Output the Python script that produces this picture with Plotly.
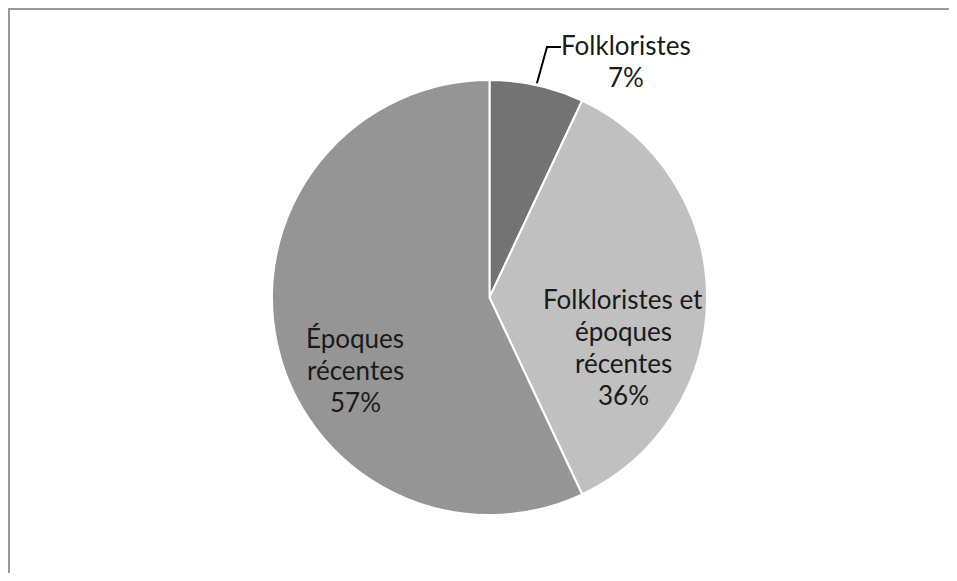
import math
import plotly.graph_objects as go

# Data
labels = ["Folkloristes", "Folkloristes et époques récentes", "Époques récentes"]
values = [7, 36, 57]
colors = ["#737373", "#c0c0c0", "#959595"]
label_lines = [
    ["Folkloristes", "7%"],
    ["Folkloristes et", "époques", "récentes", "36%"],
    ["Époques", "récentes", "57%"],
]

# the page puts the figure 8px in from the top-left corner
OFF = 8
W, H = 957 - 2 * OFF, 581 - 2 * OFF
cx, cy, r = 489.5, 297.5, 217.5


def px(x):
    return (x - OFF) / W


def py(y):
    return 1 - (y - OFF) / H


fig = go.Figure()

fig.add_trace(
    go.Pie(
        labels=labels,
        values=values,
        sort=False,
        direction="clockwise",
        rotation=0,
        textinfo="none",
        hoverinfo="label+percent",
        marker=dict(colors=colors, line=dict(color="white", width=2)),
        domain=dict(x=[px(cx - r), px(cx + r)], y=[py(cy + r), py(cy - r)]),
        showlegend=False,
    )
)

# label anchor points (centre of the first line) and line spacing in px
label_pos = [(626, 45), (623, 299), (355, 338)]
line_gap = 32

annotations = []
for lines, (lx, ly) in zip(label_lines, label_pos):
    for i, line in enumerate(lines):
        annotations.append(
            dict(
                x=px(lx),
                y=py(ly + i * line_gap),
                xref="paper",
                yref="paper",
                text=line,
                showarrow=False,
                xanchor="center",
                yanchor="middle",
                font=dict(family="Lato, sans-serif", size=26, color="#1a1a1a"),
            )
        )

# leader line for the small slice, ending at the slice's mid angle on the edge
mid = (values[0] / 2) / sum(values) * 2 * math.pi
ex, ey = cx + r * math.sin(mid), cy - r * math.cos(mid)
leader = f"M {px(561)},{py(47)} L {px(547)},{py(47)} L {px(ex)},{py(ey - 2)}"

shapes = [
    dict(type="path", path=leader, xref="paper", yref="paper", line=dict(color="black", width=2)),
    # outer frame (right and bottom edges lie outside the picture)
    dict(
        type="rect",
        xref="paper",
        yref="paper",
        x0=px(8),
        x1=px(957 + 40),
        y0=py(581 + 40),
        y1=py(8),
        line=dict(color="#9a9a9a", width=4),
        fillcolor="rgba(0,0,0,0)",
    ),
]

fig.update_layout(
    width=W,
    height=H,
    margin=dict(t=0, b=0, l=0, r=0),
    paper_bgcolor="white",
    plot_bgcolor="white",
    annotations=annotations,
    shapes=shapes,
)

fig.write_html("out.html")
